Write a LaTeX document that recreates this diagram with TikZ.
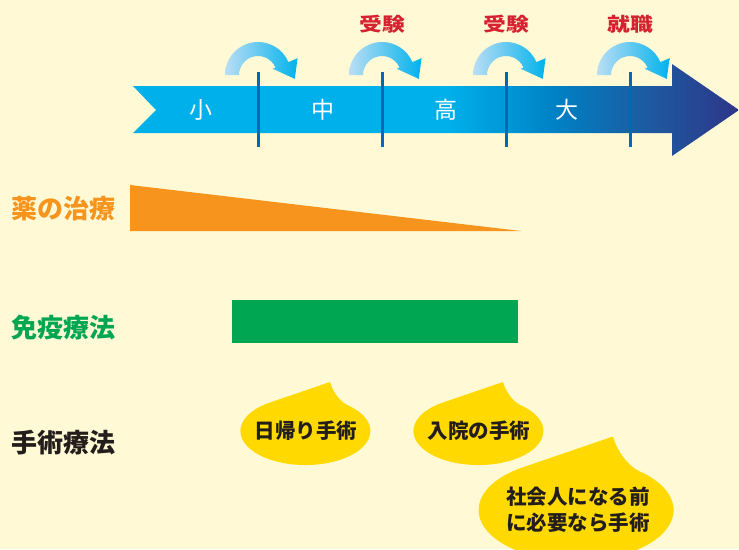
\documentclass[tikz,border=0pt]{standalone}
\usepackage{fontspec}
\setmainfont{Noto Sans CJK JP}
\definecolor{bgcream}{RGB}{255,250,213}
\definecolor{arrowcyan}{RGB}{0,176,234}
\definecolor{arrowmid}{RGB}{0,128,196}
\definecolor{arrowdeep}{RGB}{28,92,162}
\definecolor{arrownavy}{RGB}{46,54,136}
\definecolor{hopstart}{RGB}{186,222,245}
\definecolor{hopend}{RGB}{0,178,236}
\definecolor{stageblue}{RGB}{0,104,183}
\definecolor{examred}{RGB}{214,34,48}
\definecolor{drugorange}{RGB}{247,148,30}
\definecolor{immunogreen}{RGB}{0,166,81}
\definecolor{surgerydark}{RGB}{35,30,28}
\definecolor{dropyellow}{RGB}{255,217,0}
\pgfdeclarehorizontalshading{timeline}{100bp}{color(0bp)=(arrowcyan); color(51bp)=(arrowcyan); color(60bp)=(arrowmid); color(67bp)=(arrowdeep); color(75bp)=(arrownavy); color(100bp)=(arrownavy)}
\begin{document}
\begin{tikzpicture}[x=1pt, y=-1pt, line join=round, line cap=round]
	\tikzset{rowlabel/.style={anchor=west, font=\bfseries\fontsize{26}{26}\selectfont},
		stagelabel/.style={text=white, font=\fontsize{23}{23}\selectfont},
		examlabel/.style={text=examred, font=\bfseries\fontsize{19}{19}\selectfont},
		droptext/.style={text=surgerydark, align=center, font=\bfseries\fontsize{20.5}{26}\selectfont},
		drop/.pic={\fill[dropyellow, yscale=-1] (24,49) -- (-36,28.5) arc[start angle=123, end angle=410, x radius=65, y radius=34] .. controls (35,29) and (27,38) .. (24,49) -- cycle;}}
	\useasboundingbox (0,0) rectangle (739,549);
	\fill[bgcream] (0,0) rectangle (739,549);
	\clip (0,0) rectangle (739,549);
	\foreach \x in {258,382,506,630}
		\shade[left color=hopstart, right color=hopend, shift={(\x,75)}, yscale=-1] (180:33) arc[start angle=180, end angle=23, radius=33] -- (23:43) -- (-6:37) -- (23:16) -- (23:19) arc[start angle=23, end angle=180, radius=19] -- cycle;
	\shade[shading=timeline] (133,86) -- (672,86) -- (672,64) -- (739,110) -- (672,156) -- (672,133) -- (133,133) -- (156,110) -- cycle;
	\foreach \x in {258,382,506,630}
		\draw[stageblue, line width=3pt, line cap=butt] (\x,72) -- (\x,147);
	\node[stagelabel] (sho) at (201,110) {小};
	\node[stagelabel] (chu) at (323,110) {中};
	\node[stagelabel] (ko) at (446,110) {高};
	\node[stagelabel] (dai) at (567,110) {大};
	\node[examlabel] (exam1) at (382,24) {\scalebox{1.2}[1]{受験}};
	\node[examlabel] (exam2) at (506,24) {\scalebox{1.2}[1]{受験}};
	\node[examlabel] (job) at (630,24) {\scalebox{1.2}[1]{就職}};
	\fill[drugorange] (130,185) -- (521,231) -- (130,231) -- cycle;
	\fill[immunogreen] (232,300) rectangle (518,343);
	\node[rowlabel, text=drugorange] (drug) at (8,209) {薬の治療};
	\node[rowlabel, text=immunogreen] (immuno) at (8,328) {免疫療法};
	\node[rowlabel, text=surgerydark] (surgery) at (8,443) {手術療法};
	\pic at (306,431) {drop};
	\pic at (479,431) {drop};
	\pic[scale=1.5] at (577,510) {drop};
	\node[droptext] (daytrip) at (306,431) {日帰り手術};
	\node[droptext] (inpatient) at (479,431) {入院の手術};
	\node[droptext] (beforework) at (578,510) {社会人になる前\\に必要なら手術};
\end{tikzpicture}
\end{document}
